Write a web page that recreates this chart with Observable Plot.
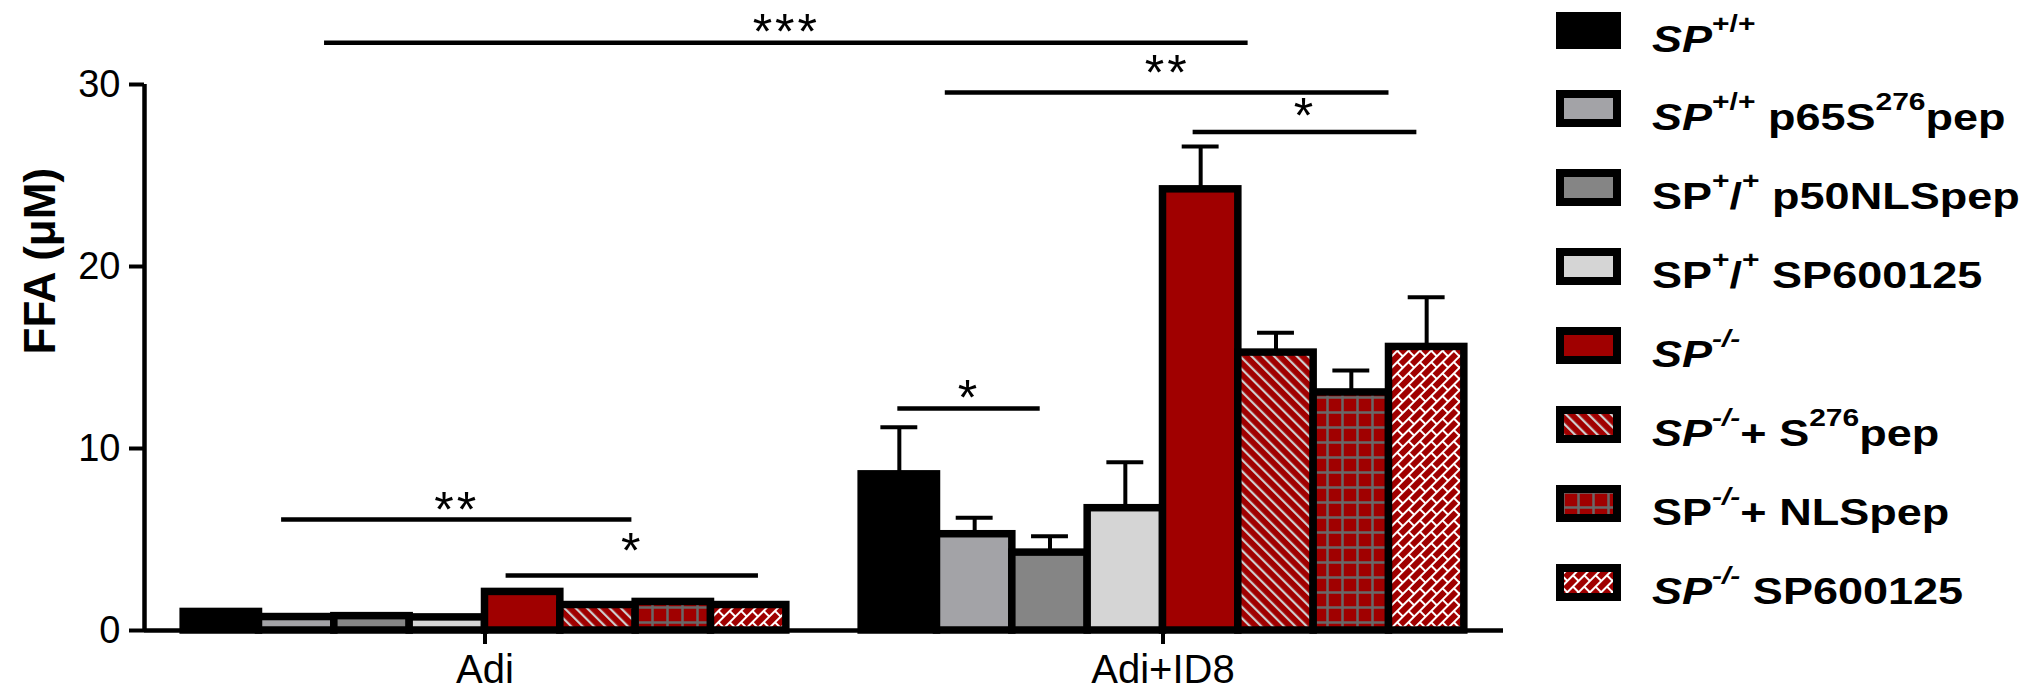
<!DOCTYPE html>
<html>
<head>
<meta charset="utf-8">
<script src="https://cdn.jsdelivr.net/npm/d3@7"></script>
<script src="https://cdn.jsdelivr.net/npm/@observablehq/plot@0.6"></script>
<style>
  body { margin: 0; background: #fff; }
  #wrap { position: relative; width: 2031px; height: 692px; font-family: "Liberation Sans", Arial, sans-serif; overflow: hidden; }
  #chart { position: absolute; left: 0; top: 0; }
  .lg-swatch { position: absolute; left: 1556px; }
  .lg-text { position: absolute; left: 1652px; font-weight: bold; font-size: 36px; line-height: 36px; white-space: nowrap;
             transform: scaleX(1.25); transform-origin: 0 0; color: #000; }
  .lg-text sup { font-size: 24px; position: relative; top: -20px; vertical-align: baseline; line-height: 0; }
</style>
</head>
<body>
<div id="wrap"><div id="chart"></div><div id="legend"></div></div>
<script>
// ---------------- data ----------------
const groups = ["Adi", "Adi+ID8"];
const series = ["SP+/+", "SP+/+ p65S276pep", "SP+/+ p50NLSpep", "SP+/+ SP600125",
                "SP-/-", "SP-/-+ S276pep", "SP-/-+ NLSpep", "SP-/- SP600125"];
const legendLabels = [
  '<i>SP</i><sup>+/+</sup>',
  '<i>SP</i><sup>+/+</sup> p65S<sup>276</sup>pep',
  'SP<sup>+</sup>/<sup>+</sup> p50NLSpep',
  'SP<sup>+</sup>/<sup>+</sup> SP600125',
  '<i>SP</i><sup><i>-/-</i></sup>',
  '<i>SP</i><sup><i>-/-</i></sup>+ S<sup>276</sup>pep',
  'SP<sup><i>-/-</i></sup>+ NLSpep',
  '<i>SP</i><sup><i>-/-</i></sup> SP600125'
];
const adiValues = [1.02, 0.74, 0.79, 0.72, 2.12, 1.40, 1.57, 1.40];
const id8Values = [8.58, 5.29, 4.28, 6.72, 24.24, 15.27, 13.08, 15.58];
const id8Errors = [2.59, 0.90, 0.90, 2.53, 2.35, 1.09, 1.21, 2.73];
const seriesFills = ["#000000", "#a3a3a7", "#858585", "#d5d5d5", "#a00000",
                     "url(#pat-diag)", "url(#pat-grid)", "url(#pat-brick)"];
const yTicks = [0, 10, 20, 30];
const yLabel = "FFA (\u03bcM)";
// significance brackets (x in bar-slot units, y in µM)
const sigX1 = [1.87, 10.11, 13.40, 9.48, 1.30, 4.28];
const sigX2 = [14.13, 16.00, 16.37, 11.37, 5.95, 7.63];
const sigY = [32.3, 29.56, 27.39, 12.2, 6.1, 3.02];
const sigLabelY = [31.95, 29.68, 27.33, 11.85, 5.69, 3.44];
const sigLabels = ["***", "**", "*", "*", "**", "*"];

// ---------------- tables ----------------
const slotsPerGroup = series.length + 1;
const bars = [];
groups.forEach((g, gi) => {
  const vals = gi === 0 ? adiValues : id8Values;
  series.forEach((s, si) => {
    bars.push({group: g, series: s, slot: gi * slotsPerGroup + si, value: vals[si],
               err: gi === 0 ? null : id8Errors[si], fill: seriesFills[si]});
  });
});
const errBars = bars.filter(d => d.err != null);
const groupCenters = groups.map((g, gi) => gi * slotsPerGroup + series.length / 2);
const sig = sigLabels.map((t, i) => ({x1: sigX1[i], x2: sigX2[i], y: sigY[i], ly: sigLabelY[i], text: t}));

const defsMarkup = `
  <pattern id="pat-diag" patternUnits="userSpaceOnUse" width="8" height="8" patternTransform="rotate(-45)">
    <rect width="8" height="8" fill="#a00000"/>
    <rect x="0" y="0" width="2.2" height="8" fill="#cfcfcf"/>
  </pattern>
  <pattern id="pat-grid" patternUnits="userSpaceOnUse" width="15" height="15">
    <rect width="15" height="15" fill="#a00000"/>
    <path d="M0,7.5H15M7.5,0V15" stroke="#686868" stroke-width="2.5"/>
  </pattern>
  <pattern id="pat-brick" patternUnits="userSpaceOnUse" width="16" height="16" patternTransform="rotate(-45)">
    <rect width="16" height="16" fill="#a00000"/>
    <path d="M0,4H16M0,12H16M4,4V12M12,12V16M12,0V4" stroke="#ffffff" stroke-width="2"/>
  </pattern>`;
const defsMark = () => {
  const g = document.createElementNS("http://www.w3.org/2000/svg", "defs");
  g.innerHTML = defsMarkup;
  return g;
};

const xMin = -0.52, xMax = 17.52;
const chart = Plot.plot({
  width: 1540, height: 692,
  marginLeft: 144, marginRight: 37, marginTop: 84, marginBottom: 62,
  style: {fontFamily: '"Liberation Sans", Arial, sans-serif', color: "#000", background: "transparent", overflow: "visible"},
  x: {type: "linear", domain: [xMin, xMax]},
  y: {domain: [0, 30]},
  color: {type: "identity"},
  marks: [
    defsMark,
    Plot.rectY(bars, {x1: "slot", x2: d => d.slot + 1, y1: 0, y2: "value", fill: "fill", stroke: "#000", strokeWidth: 7.5}),
    Plot.ruleX(errBars, {x: d => d.slot + 0.5, y1: "value", y2: d => d.value + d.err, stroke: "#000", strokeWidth: 4}),
    Plot.ruleY(errBars, {y: d => d.value + d.err, x1: d => d.slot + 0.255, x2: d => d.slot + 0.745, stroke: "#000", strokeWidth: 4}),
    Plot.ruleY([0], {stroke: "#000", strokeWidth: 4.5}),
    Plot.ruleX([xMin], {y1: 0, y2: 30, stroke: "#000", strokeWidth: 4.5}),
    Plot.axisY({ticks: yTicks, tickSize: 15, tickPadding: 9, fontSize: 38, strokeWidth: 4, label: null}),
    Plot.axisX({ticks: groupCenters, tickFormat: d => groups[groupCenters.indexOf(d)], tickSize: 14, tickPadding: 10,
                fontSize: 40, strokeWidth: 4, label: null}),
    Plot.text([yLabel], {frameAnchor: "left", rotate: -90, dx: -104, dy: -3, fontSize: 44, fontWeight: "bold", fill: "#000"}),
    Plot.ruleY(sig, {x1: "x1", x2: "x2", y: "y", stroke: "#000", strokeWidth: 4.5}),
    Plot.text(sig, {x: d => (d.x1 + d.x2) / 2, y: "ly", text: "text", lineAnchor: "bottom", fontSize: 50, fill: "#000"})
  ]
});
d3.select(chart).selectAll("text").filter(function() { return /^\*+$/.test(this.textContent); })
  .attr("letter-spacing", "3px");
document.getElementById("chart").appendChild(chart);

// ---------------- legend ----------------
const legend = d3.select("#legend");
series.forEach((s, i) => {
  const cy = 30 + 78.9 * i;
  const sw = legend.append("svg").attr("class", "lg-swatch").attr("width", 65).attr("height", 37)
    .style("top", (cy - 18.5) + "px");
  sw.append("rect").attr("x", 4).attr("y", 4).attr("width", 57).attr("height", 29)
    .attr("fill", seriesFills[i]).attr("stroke", "#000").attr("stroke-width", 8);
  legend.append("div").attr("class", "lg-text").style("top", (cy - 8.5) + "px").html(legendLabels[i]);
});
</script>
</body>
</html>
